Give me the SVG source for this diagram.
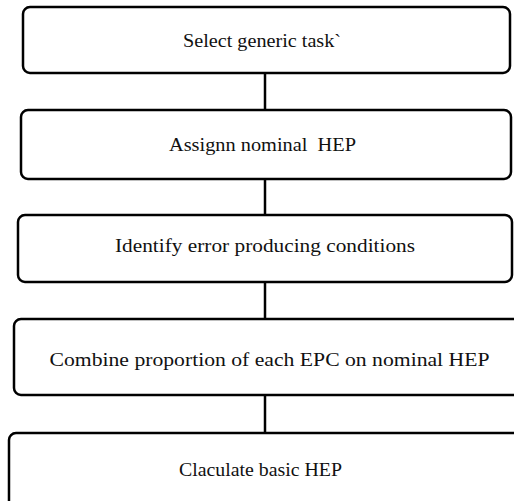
<svg xmlns="http://www.w3.org/2000/svg" width="514" height="501" viewBox="0 0 514 501">
<style>
.box{fill:#fff;stroke:#000;stroke-width:2.5}
.lbl{font-family:"Liberation Serif","Times New Roman",serif;font-size:19px;fill:#111;white-space:pre}
.con{stroke:#000;stroke-width:2.5;fill:none}
</style>
<rect width="514" height="501" fill="#fff"/>
<g id="connectors">
<line class="con" x1="265" y1="73" x2="265" y2="110"/>
<line class="con" x1="265" y1="179" x2="265" y2="215"/>
<line class="con" x1="265" y1="282" x2="265" y2="319"/>
<line class="con" x1="265" y1="395" x2="265" y2="433"/>
</g>
<g id="n1">
<rect class="box" x="23" y="7" width="487" height="66" rx="7"/>
<text class="lbl" x="183" y="47" textLength="158" lengthAdjust="spacingAndGlyphs">Select generic task`</text>
</g>
<g id="n2">
<rect class="box" x="21" y="110" width="490" height="69" rx="7"/>
<text class="lbl" x="169" y="151" textLength="187" lengthAdjust="spacingAndGlyphs" xml:space="preserve">Assignn nominal  HEP</text>
</g>
<g id="n3">
<rect class="box" x="18" y="215" width="494" height="67" rx="7"/>
<text class="lbl" x="115" y="252" textLength="300" lengthAdjust="spacingAndGlyphs">Identify error producing conditions</text>
</g>
<g id="n4">
<rect class="box" x="14" y="319" width="510" height="76" rx="7"/>
<text class="lbl" x="49.5" y="366" textLength="440" lengthAdjust="spacingAndGlyphs">Combine proportion of each EPC on nominal HEP</text>
</g>
<g id="n5">
<rect class="box" x="9" y="433" width="515" height="80" rx="7"/>
<text class="lbl" x="179" y="476" textLength="163" lengthAdjust="spacingAndGlyphs">Claculate basic HEP</text>
</g>
</svg>
